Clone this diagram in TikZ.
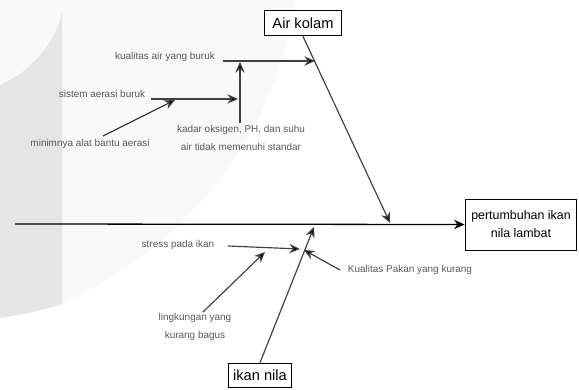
\documentclass[tikz,border=0pt]{standalone}
\usepackage{xcolor}
\usepackage{fontspec}
\setmainfont{Liberation Sans}
\usepackage{tikz}
\usetikzlibrary{positioning,arrows.meta,calc}

\begin{document}
\begin{tikzpicture}[x=0.03cm, y=-0.03cm,
    box/.style={draw, thick, fill=white, inner sep=2pt},
    lbl/.style={text=black!65, font=\fontsize{8.5}{16}\selectfont, inner sep=1pt},
    bone/.style={draw=black!75, line width=1pt, -{Stealth[length=9pt, width=8pt, fill=black]}},
    spine/.style={draw=black, line width=1.1pt, -{Stealth[length=9pt, width=8pt]}}]
    \useasboundingbox (0,0) rectangle (579,390);
    % background
    \fill[black!2.5] (0,0) -- (295,0) .. controls (280,120) and (200,240) .. (62,304)
        .. controls (40,311) and (20,315) .. (0,318) -- cycle;
    \fill[black!10] (0,85) .. controls (30,72) and (55,45) .. (62,12) -- (62,304)
        .. controls (40,311) and (20,315) .. (0,318) -- cycle;

    % heads
    \node[box, font=\fontsize{12.5}{15}\selectfont, minimum width=65pt, minimum height=22pt] (airkolam) at (303,23) {Air kolam};
    \node[box, font=\fontsize{12.5}{15}\selectfont, minimum width=54pt, minimum height=21pt] (ikannila) at (260,375.5) {ikan nila};
    \node[box, font=\fontsize{10.6}{15.3}\selectfont, align=center, minimum width=95.5pt, minimum height=43.5pt] (hasil) at (521,224.5) {pertumbuhan ikan\\nila lambat};

    % causes
    \node[lbl] (kualitas) at (165,57) {kualitas air yang buruk};
    \node[lbl] (sistem) at (102,94) {sistem aerasi buruk};
    \node[lbl] (minim) at (90,144) {minimnya alat bantu aerasi};
    \node[lbl, align=center] (kadar) at (241,138) {kadar oksigen, PH, dan suhu\\air tidak memenuhi standar};
    \node[lbl] (stress) at (178,245) {stress pada ikan};
    \node[lbl, align=center] (lingkungan) at (195,327) {lingkungan yang\\kurang bagus};
    \node[lbl] (pakan) at (410,270) {Kualitas Pakan yang kurang};

    \coordinate (ekor) at (15,224);
    \coordinate (ujungA) at (390,223);
    \coordinate (ujungB) at (314,227);
    \coordinate (k0) at (223,61);
    \coordinate (k1) at (315,61);
    \coordinate (s0) at (151,99);
    \coordinate (s1) at (238,99);
    \coordinate (d0) at (240,123);
    \coordinate (d1) at (240,62);
    \coordinate (m0) at (103,136);
    \coordinate (m1) at (175,100);
    \coordinate (t0) at (228,246);
    \coordinate (t1) at (300,249);
    \coordinate (l0) at (203,312);
    \coordinate (l1) at (265,252);
    \coordinate (p0) at (340,270);
    \coordinate (p1) at (304,250);

    \draw[spine] (ekor) -- (hasil.west);
    \draw[bone] (airkolam.south) -- (ujungA);
    \draw[bone] (ikannila.north) -- (ujungB);
    \draw[bone] (k0) -- (k1);
    \draw[bone] (s0) -- (s1);
    \draw[bone] (d0) -- (d1);
    \draw[bone] (m0) -- (m1);
    \draw[bone] (t0) -- (t1);
    \draw[bone] (l0) -- (l1);
    \draw[bone] (p0) -- (p1);
\end{tikzpicture}
\end{document}
